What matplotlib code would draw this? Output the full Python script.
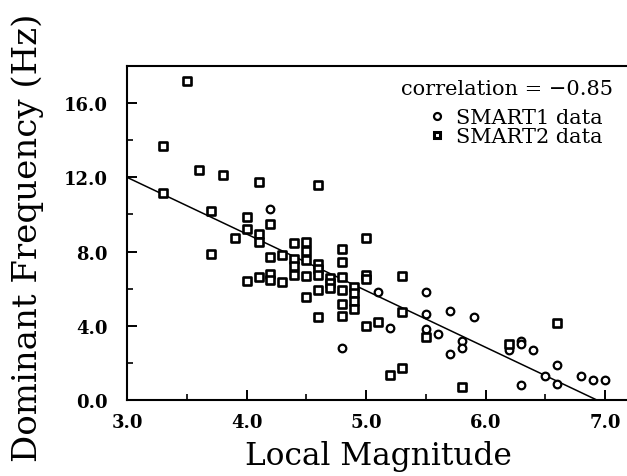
import matplotlib
matplotlib.use("Agg")
import matplotlib.pyplot as plt
from matplotlib.ticker import MultipleLocator, FormatStrFormatter
from matplotlib.lines import Line2D

# SMART1 events (circles)
smart1_ml = [4.2, 4.8, 5.1, 5.2, 5.5, 5.5, 5.5, 5.6, 5.7, 5.7, 5.8, 5.8, 5.9,
             6.2, 6.3, 6.3, 6.4, 6.3, 6.5, 6.6, 6.6, 6.8, 6.9, 7.0]
smart1_freq = [10.3, 2.8, 5.8, 3.9, 5.8, 4.65, 3.85, 3.55, 4.8, 2.5, 3.2, 2.8, 4.5,
               2.7, 3.2, 3.0, 2.7, 0.8, 1.3, 1.9, 0.85, 1.3, 1.1, 1.1]

# SMART2 events (squares)
smart2_ml = [3.3, 3.3, 3.5, 3.6, 3.7, 3.7, 3.8, 3.9, 4.0, 4.0, 4.0, 4.1, 4.1, 4.1,
             4.1, 4.2, 4.2, 4.2, 4.2, 4.3, 4.3, 4.4, 4.4, 4.4, 4.4, 4.5, 4.5, 4.5,
             4.5, 4.5, 4.6, 4.6, 4.6, 4.6, 4.6, 4.6, 4.7, 4.7, 4.7, 4.8, 4.8, 4.8,
             4.8, 4.8, 4.8, 4.9, 4.9, 4.9, 4.9, 5.0, 5.0, 5.0, 5.0, 5.1, 5.2, 5.3,
             5.3, 5.3, 5.5, 5.8, 6.2, 6.6]
smart2_freq = [13.7, 11.15, 17.2, 12.4, 10.2, 7.85, 12.1, 8.75, 9.85, 9.2, 6.4, 11.75, 8.95, 8.5,
               6.65, 9.5, 7.7, 6.8, 6.45, 7.8, 6.35, 8.45, 7.6, 7.2, 6.75, 8.5, 8.05, 7.55,
               6.7, 5.55, 11.6, 7.35, 7.05, 6.75, 5.95, 4.5, 6.55, 6.3, 6.05, 8.15, 7.45, 6.65,
               5.95, 5.2, 4.55, 6.1, 5.75, 5.35, 4.9, 8.75, 6.75, 6.5, 4.0, 4.2, 1.35, 6.7,
               4.75, 1.75, 3.4, 0.7, 3.0, 4.15]

# least squares line
fit_slope = -3.053
fit_intercept = 21.16
fit_range = [3.0, 6.93]
correlation = -0.85

serif = "DejaVu Serif"

fig = plt.figure(figsize=(6.27, 4.77), dpi=100)
ax = fig.add_axes([0.2026, 0.1593, 0.8006, 0.7002])

fit_y = [fit_intercept + fit_slope * x for x in fit_range]
ax.plot(fit_range, fit_y, color="black", lw=1.1)

ax.scatter(smart1_ml, smart1_freq, marker="o", s=30, facecolor="white",
           edgecolor="black", linewidths=1.6, zorder=3)
ax.scatter(smart2_ml, smart2_freq, marker="s", s=30, facecolor="white",
           edgecolor="black", linewidths=1.9, zorder=3)

ax.set_xlim(3.0, 7.2)
ax.set_ylim(0.0, 18.0)
ax.xaxis.set_major_locator(MultipleLocator(1.0))
ax.xaxis.set_minor_locator(MultipleLocator(0.5))
ax.yaxis.set_major_locator(MultipleLocator(4.0))
ax.yaxis.set_minor_locator(MultipleLocator(2.0))
ax.xaxis.set_major_formatter(FormatStrFormatter("%.1f"))
ax.yaxis.set_major_formatter(FormatStrFormatter("%.1f"))
ax.tick_params(which="major", direction="in", length=7, width=1.4,
               labelsize=13, pad=9)
ax.tick_params(which="minor", direction="in", length=4, width=1.2)
ax.tick_params(axis="y", pad=14)
for lab in ax.get_xticklabels() + ax.get_yticklabels():
    lab.set_fontfamily(serif)
    lab.set_fontweight("bold")
for sp in ax.spines.values():
    sp.set_linewidth(1.5)
ax.spines["right"].set_visible(False)

ax.set_xlabel("Local Magnitude", fontsize=22.5, family=serif)
ax.xaxis.set_label_coords(0.5, -0.12)
ax.set_ylabel("Dominant Frequency (Hz)", fontsize=24.5, family=serif)
ax.yaxis.set_label_coords(-0.165, 0.49)

ax.text(0.968, 0.934, f"correlation = \u2212{abs(correlation):.2f}",
        transform=ax.transAxes, ha="right", va="center",
        family=serif, fontsize=15)

handles = [
    Line2D([], [], ls="none", marker="o", markersize=5, markerfacecolor="white",
           markeredgecolor="black", markeredgewidth=1.6),
    Line2D([], [], ls="none", marker="s", markersize=5, markerfacecolor="white",
           markeredgecolor="black", markeredgewidth=2.2),
]
leg = ax.legend(handles, ["SMART1 data", "SMART2 data"],
                loc="upper right", bbox_to_anchor=(0.968, 0.905), frameon=False,
                handlelength=0.6, handletextpad=0.6,
                labelspacing=0.0, borderpad=0.0,
                prop={"family": serif, "size": 15})

fig.savefig("out.png", dpi=100)
